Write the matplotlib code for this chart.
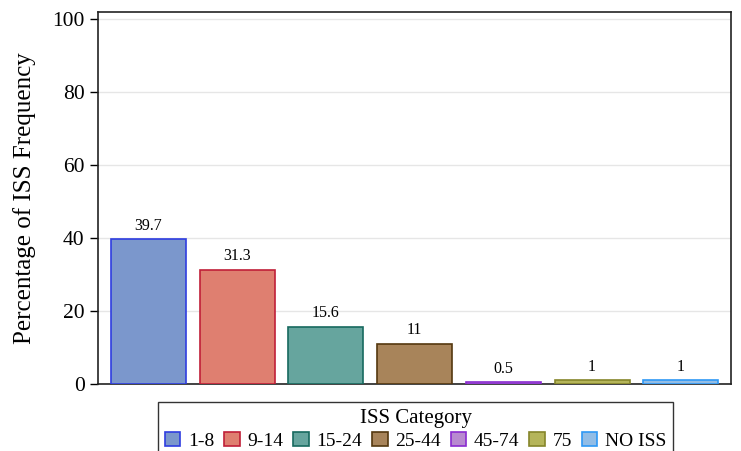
import matplotlib.pyplot as plt
import numpy as np

plt.rcParams['font.family'] = ['Liberation Serif', 'DejaVu Serif']

categories = ["1-8", "9-14", "15-24", "25-44", "45-74", "75", "NO ISS"]
values = [39.7, 31.3, 15.6, 11, 0.5, 1, 1]
labels = ["39.7", "31.3", "15.6", "11", "0.5", "1", "1"]
fill_colors = ["#7b97cc", "#df7f70", "#66a59e", "#a8845a", "#b88ad0", "#b5b55a", "#92bde6"]
edge_colors = ["#2f3de0", "#c01f38", "#17695f", "#55380f", "#8a2bd0", "#85852a", "#2f98f5"]

fig = plt.figure(figsize=(7.41, 4.51), dpi=100)
ax = fig.add_axes([0.132, 0.149, 0.855, 0.824])

x = np.arange(len(categories))
bars = ax.bar(x, values, width=0.845, color=fill_colors, edgecolor=edge_colors,
              linewidth=1.2, zorder=3)
for xi, v, lab in zip(x, values, labels):
    ax.text(xi, v + 1.5, lab, ha="center", va="bottom", fontsize=11.5)

ax.set_xlim(-0.57, 6.57)
ax.set_ylim(0, 102)
ax.set_yticks([0, 20, 40, 60, 80, 100])
ax.set_xticks([])
ax.tick_params(axis="y", labelsize=15.5, length=6, width=1)
ax.grid(axis="y", color="#e6e6e6", linewidth=1, zorder=0)
for s in ax.spines.values():
    s.set_linewidth(1.2)
    s.set_color("#222222")
ax.set_ylabel("Percentage of ISS Frequency", fontsize=18, labelpad=12)

leg = fig.legend(bars, categories, title="ISS Category", ncol=7,
                 loc="upper center", bbox_to_anchor=(0.561, 0.109),
                 fontsize=14, title_fontsize=15, fancybox=False,
                 edgecolor="#333333", handlelength=0.8, handleheight=0.8,
                 handletextpad=0.4, columnspacing=0.5, borderpad=0.35,
                 labelspacing=0.2, framealpha=1, borderaxespad=0)
leg.get_frame().set_linewidth(1)

fig.savefig("out.png", dpi=100)
